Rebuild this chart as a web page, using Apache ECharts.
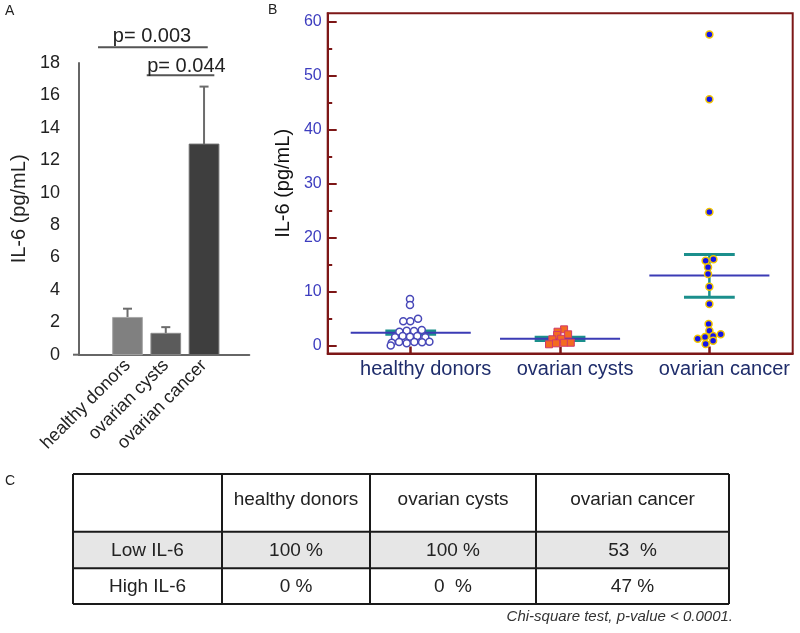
<!DOCTYPE html>
<html><head><meta charset="utf-8">
<script src="https://cdn.jsdelivr.net/npm/echarts@6/dist/echarts.min.js"></script>
<style>html,body{margin:0;padding:0;background:#fff}#c{width:800px;height:633px}</style>
</head><body><div id="c"></div>
<script>
// ---------- data ----------
const groups = ['healthy donors', 'ovarian cysts', 'ovarian cancer'];

// Panel A: bar means and upper error limits
const barMeans = [2.3, 1.32, 13.0];
const barErrTop = [2.84, 1.7, 16.55];
// significance brackets (x in category units, y in pg/mL)
const sigLabels = ['p= 0.003', 'p= 0.044'];
const sigFrom = [0.229, 1.502];
const sigTo = [3.097, 3.269];
const sigLevel = [18.98, 17.25];
const sigTextX = [1.64, 2.54];
const sigTextY = [19.67, 17.82];

// Panel B: individual values and jitter (category units)
const healthyVals = [8.66, 7.55, 4.53, 4.53, 5.01, 2.61, 2.8, 2.74, 2.92, 1.57, 1.81, 1.68, 1.81, 1.57, 0.57, 0.70, 0.46, 0.70, 0.65, 0.76, 0.05];
const healthyJitter = [-0.005, -0.005, -0.05, -0.003, 0.049, -0.076, -0.027, 0.022, 0.074, -0.105, -0.054, -0.005, 0.044, 0.098, -0.127, -0.078, -0.027, 0.024, 0.076, 0.125, -0.134];
const cystVals = [3.05, 2.61, 2.13, 2.0, 1.2, 1.31, 0.28, 0.46, 0.57, 0.57];
const cystJitter = [0.027, -0.017, 0.054, -0.02, -0.052, 0.007, -0.074, -0.027, 0.027, 0.072];
const cancerVals = [57.56, 45.6, 24.75, 15.74, 16.0, 14.52, 13.28, 10.93, 7.73, 4.03, 2.79, 1.31, 1.63, 1.81, 2.13, 0.94, 0.33];
const cancerJitter = [0, 0, 0, -0.025, 0.027, -0.009, -0.009, 0, 0, -0.005, 0, -0.078, -0.029, 0.025, 0.076, 0.025, -0.025];
const groupMeans = [2.42, 1.31, 13.0];
const semLow = [2.12, 1.0, 8.97];
const semHigh = [2.72, 1.6, 16.9];
const yTicksB = [0, 10, 20, 30, 40, 50, 60];
const yMinorB = [5, 15, 25, 35, 45, 55];

// Panel C: table
const tableHeader = ['', 'healthy donors', 'ovarian cysts', 'ovarian cancer'];
const tableRows = [
  ['Low IL-6', '100 %', '100 %', '53  %'],
  ['High IL-6', '0 %', '0  %', '47 %']
];
const tableNote = 'Chi-square test, p-value < 0.0001.';

// ---------- styles ----------
const FONT = 'Liberation Sans, Arial, Helvetica, sans-serif';
const barFill = ['#808080', '#5b5b5b', '#3e3e3e'];
const barEdge = ['#a8a8a8', '#8a8a8a', '#6e6e6e'];
const errColor = '#6c6c6c';
const darkRed = '#7d1717';
const meanColor = '#3b3bb5';
const semColor = '#1b8f8c';

const chart = echarts.init(document.getElementById('c'), null, {renderer: 'canvas'});

// table graphics
const colX = [73, 222, 370, 536, 729];
const rowY = [474, 531.7, 568.3, 604];
const g = [];
g.push({type: 'rect', shape: {x: colX[0], y: rowY[1], width: colX[4] - colX[0], height: rowY[2] - rowY[1]}, style: {fill: '#e6e6e6'}});
rowY.forEach(y => g.push({type: 'line', shape: {x1: colX[0], y1: y, x2: colX[4], y2: y}, style: {stroke: '#1a1a1a', lineWidth: 2}}));
colX.forEach(x => g.push({type: 'line', shape: {x1: x, y1: rowY[0], x2: x, y2: rowY[3]}, style: {stroke: '#1a1a1a', lineWidth: 2}}));
tableHeader.forEach((t, j) => {
  if (!t) return;
  g.push({type: 'text', x: (colX[j] + colX[j + 1]) / 2, y: 500, style: {text: t, fontSize: 19, fontFamily: FONT, fill: '#222', align: 'center', verticalAlign: 'middle'}});
});
tableRows.forEach((row, i) => {
  row.forEach((t, j) => {
    g.push({type: 'text', x: (colX[j] + colX[j + 1]) / 2, y: (rowY[i + 1] + rowY[i + 2]) / 2 + 1, style: {text: t, fontSize: 19, fontFamily: FONT, fill: '#222', align: 'center', verticalAlign: 'middle'}});
  });
});
g.push({type: 'text', x: 733, y: 617, style: {text: tableNote, fontSize: 15, fontStyle: 'italic', fontFamily: FONT, fill: '#333', align: 'right', verticalAlign: 'middle'}});
// x axis stub of panel A extending left of the y axis
g.push({type: 'line', shape: {x1: 73, y1: 354.7, x2: 80, y2: 354.7}, style: {stroke: '#666', lineWidth: 2}});
// panel letters
[['A', 5, 11], ['B', 268, 10], ['C', 5, 481]].forEach(p => g.push({type: 'text', x: p[1], y: p[2], style: {text: p[0], fontSize: 14, fontFamily: FONT, fill: '#222', align: 'left', verticalAlign: 'middle'}}));

const option = {
  animation: false,
  textStyle: {fontFamily: FONT},
  graphic: {elements: g},
  grid: [
    {left: 79, right: 550.7, top: 63.1, bottom: 278.3},
    {left: 327.7, right: 7.3, top: 13.3, bottom: 279.5, show: true, borderColor: darkRed, borderWidth: 2, backgroundColor: 'transparent'}
  ],
  xAxis: [
    {
      type: 'value', gridIndex: 0, min: -0.268, max: 4.183,
      axisLine: {show: true, onZero: false, lineStyle: {color: '#666', width: 2}},
      axisTick: {show: false}, splitLine: {show: false},
      axisLabel: {customValues: [1, 2, 3], formatter: v => groups[Math.round(v) - 1], rotate: 45, fontSize: 18, color: '#222', margin: 8}
    },
    {
      type: 'value', gridIndex: 1, min: 0.444, max: 3.558,
      axisLine: {show: true, onZero: false, lineStyle: {color: darkRed, width: 2}},
      axisTick: {customValues: [1, 2, 3], inside: true, length: 7, lineStyle: {color: darkRed, width: 2.5}},
      splitLine: {show: false},
      axisLabel: {customValues: [1, 2, 3], formatter: v => groups[Math.round(v) - 1], fontSize: 20, color: '#1f2d6b', margin: 6, padding: [0, 0, 0, 30]}
    }
  ],
  yAxis: [
    {
      type: 'value', gridIndex: 0, min: 0, max: 18, interval: 2, position: 'left',
      axisLine: {show: true, onZero: false, lineStyle: {color: '#666', width: 2}},
      axisTick: {show: false}, splitLine: {show: false},
      axisLabel: {fontSize: 18, color: '#222', margin: 19},
      name: 'IL-6 (pg/mL)', nameLocation: 'middle', nameGap: 50, nameTextStyle: {fontSize: 20, color: '#222'}
    },
    {
      type: 'value', gridIndex: 1, min: -1.42, max: 61.5, position: 'left',
      axisLine: {show: true, onZero: false, lineStyle: {color: darkRed, width: 2}},
      axisTick: {customValues: yTicksB, inside: true, length: 9, lineStyle: {color: darkRed, width: 2}},
      splitLine: {show: false},
      axisLabel: {customValues: yTicksB, fontSize: 16, color: '#3d3dbf', margin: 6},
      name: 'IL-6 (pg/mL)', nameLocation: 'middle', nameGap: 34, nameTextStyle: {fontSize: 20, color: '#111'}
    },
    {
      type: 'value', gridIndex: 1, min: -1.42, max: 61.5, position: 'left',
      axisLine: {show: false, onZero: false},
      axisTick: {customValues: yMinorB, inside: true, length: 4.5, lineStyle: {color: darkRed, width: 2}},
      splitLine: {show: false},
      axisLabel: {show: false}
    }
  ],
  series: [
    {
      type: 'custom', xAxisIndex: 0, yAxisIndex: 0,
      data: groups.map((gname, i) => [i + 1, barMeans[i], barErrTop[i]]),
      renderItem: function (params, api) {
        const x = api.value(0), m = api.value(1), t = api.value(2);
        const p0 = api.coord([x - 0.388, m]);
        const p1 = api.coord([x + 0.388, 0]);
        const mid = api.coord([x, m]);
        const top = api.coord([x, t]);
        const cl = api.coord([x - 0.118, t]);
        const cr = api.coord([x + 0.118, t]);
        return {type: 'group', children: [
          {type: 'line', shape: {x1: mid[0], y1: mid[1], x2: top[0], y2: top[1]}, style: {stroke: errColor, lineWidth: 2}},
          {type: 'line', shape: {x1: cl[0], y1: cl[1], x2: cr[0], y2: cr[1]}, style: {stroke: errColor, lineWidth: 2}},
          {type: 'rect', shape: {x: p0[0], y: p0[1], width: p1[0] - p0[0], height: p1[1] - p0[1]}, style: {fill: barFill[params.dataIndex], stroke: barEdge[params.dataIndex], lineWidth: 1}}
        ]};
      }
    },
    {
      type: 'custom', xAxisIndex: 0, yAxisIndex: 0, clip: false,
      data: sigLabels.map((l, i) => [sigFrom[i], sigTo[i], sigLevel[i], sigTextX[i], sigTextY[i]]),
      renderItem: function (params, api) {
        const a = api.coord([api.value(0), api.value(2)]);
        const b = api.coord([api.value(1), api.value(2)]);
        const tp = api.coord([api.value(3), api.value(4)]);
        return {type: 'group', children: [
          {type: 'line', shape: {x1: a[0], y1: a[1], x2: b[0], y2: b[1]}, style: {stroke: '#555', lineWidth: 2}},
          {type: 'text', x: tp[0], y: tp[1], style: {text: sigLabels[params.dataIndex], fontSize: 20, fontFamily: FONT, fill: '#222', align: 'center', verticalAlign: 'middle', textAlign: 'center', textVerticalAlign: 'middle'}}
        ]};
      }
    },
    {
      type: 'custom', xAxisIndex: 1, yAxisIndex: 1, z: 2,
      data: groups.map((gname, i) => [i + 1, groupMeans[i], semLow[i], semHigh[i]]),
      renderItem: function (params, api) {
        const x = api.value(0), m = api.value(1), lo = api.value(2), hi = api.value(3);
        const ml = api.coord([x - 0.402, m]), mr = api.coord([x + 0.402, m]);
        const hl = api.coord([x - 0.17, hi]), hr = api.coord([x + 0.17, hi]);
        const ll = api.coord([x - 0.17, lo]), lr = api.coord([x + 0.17, lo]);
        const vt = api.coord([x, hi]), vb = api.coord([x, lo]);
        return {type: 'group', children: [
          {type: 'line', shape: {x1: vt[0], y1: vt[1], x2: vb[0], y2: vb[1]}, style: {stroke: semColor, lineWidth: 2.5}},
          {type: 'line', shape: {x1: hl[0], y1: hl[1], x2: hr[0], y2: hr[1]}, style: {stroke: semColor, lineWidth: 3}},
          {type: 'line', shape: {x1: ll[0], y1: ll[1], x2: lr[0], y2: lr[1]}, style: {stroke: semColor, lineWidth: 3}},
          {type: 'line', shape: {x1: ml[0], y1: ml[1], x2: mr[0], y2: mr[1]}, style: {stroke: meanColor, lineWidth: 2}}
        ]};
      }
    },
    {
      type: 'scatter', xAxisIndex: 1, yAxisIndex: 1, z: 3,
      symbol: 'circle', symbolSize: 7,
      itemStyle: {color: '#ffffff', borderColor: '#4848b8', borderWidth: 1.5, opacity: 1},
      data: healthyVals.map((v, i) => [1 + healthyJitter[i], v])
    },
    {
      type: 'scatter', xAxisIndex: 1, yAxisIndex: 1, z: 3,
      symbol: 'rect', symbolSize: 7,
      itemStyle: {color: '#f36b21', borderColor: '#d03a6a', borderWidth: 1, opacity: 1},
      data: cystVals.map((v, i) => [2 + cystJitter[i], v])
    },
    {
      type: 'scatter', xAxisIndex: 1, yAxisIndex: 1, z: 3,
      symbol: 'circle', symbolSize: 7,
      itemStyle: {color: '#1515e8', borderColor: '#f2c500', borderWidth: 1.5, opacity: 1},
      data: cancerVals.map((v, i) => [3 + cancerJitter[i], v])
    }
  ]
};
chart.setOption(option);
</script>
</body></html>
